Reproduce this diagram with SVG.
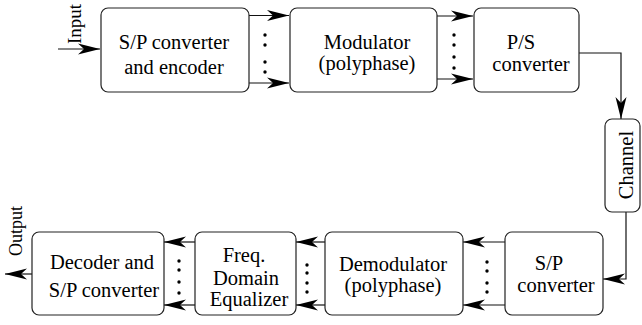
<svg xmlns="http://www.w3.org/2000/svg" width="642" height="325" viewBox="0 0 642 325">
<style>
.box{fill:#fff;stroke:#222;stroke-width:1.2}
.c{fill:none;stroke:#111;stroke-width:1.2}
.d{fill:#000}
</style>
<defs>
<marker id="ah" viewBox="0 0 22 12" refX="22" refY="6" markerWidth="22" markerHeight="12" markerUnits="userSpaceOnUse" orient="auto">
<path d="M0,0.5 L22,6 L0,11.5 L6,6 z" fill="#000"/>
</marker>
</defs>
<rect width="642" height="325" fill="#fff"/>
<g id="connectors">
<path class="c" d="M58,49 H100" marker-end="url(#ah)"/>
<path class="c" d="M249,15.5 H289" marker-end="url(#ah)"/>
<path class="c" d="M249,83 H289" marker-end="url(#ah)"/>
<path class="c" d="M437,16 H473" marker-end="url(#ah)"/>
<path class="c" d="M437,79 H473" marker-end="url(#ah)"/>
<path class="c" d="M579,53 H621 V119" marker-end="url(#ah)"/>
<path class="c" d="M626,212 V279 H603" marker-end="url(#ah)"/>
<path class="c" d="M505,242 H463" marker-end="url(#ah)"/>
<path class="c" d="M505,305 H463" marker-end="url(#ah)"/>
<path class="c" d="M325,242 H296" marker-end="url(#ah)"/>
<path class="c" d="M325,305 H296" marker-end="url(#ah)"/>
<path class="c" d="M195,242 H164" marker-end="url(#ah)"/>
<path class="c" d="M195,305 H164" marker-end="url(#ah)"/>
<path class="c" d="M32,274 H5" marker-end="url(#ah)"/>
<g class="d">
<circle cx="265" cy="35" r="1.7"/><circle cx="265" cy="45" r="1.7"/><circle cx="265" cy="62" r="1.7"/><circle cx="265" cy="72" r="1.7"/>
<circle cx="454" cy="35" r="1.7"/><circle cx="454" cy="45" r="1.7"/><circle cx="454" cy="57" r="1.7"/><circle cx="454" cy="68" r="1.7"/>
<circle cx="487" cy="262" r="1.7"/><circle cx="487" cy="271" r="1.7"/><circle cx="487" cy="283" r="1.7"/><circle cx="487" cy="292" r="1.7"/>
<circle cx="307" cy="265" r="1.7"/><circle cx="307" cy="273" r="1.7"/><circle cx="307" cy="283" r="1.7"/><circle cx="307" cy="292" r="1.7"/>
<circle cx="179" cy="261" r="1.7"/><circle cx="179" cy="270" r="1.7"/><circle cx="179" cy="282" r="1.7"/><circle cx="179" cy="293" r="1.7"/>
</g>
</g>
<g font-family="Liberation Serif, serif" font-size="20.5" text-anchor="middle" fill="#000">
<g id="input-label">
<text text-anchor="start" font-size="19" transform="translate(81,44) rotate(-90)">Input</text>
</g>
<g id="output-label">
<text text-anchor="start" font-size="18" transform="translate(22,256) rotate(-90)">Output</text>
</g>
<g id="sp-encoder">
<rect class="box" x="101" y="8" width="148" height="84" rx="7"/>
<text x="174" y="49">S/P converter</text>
<text x="174" y="74">and encoder</text>
</g>
<g id="modulator">
<rect class="box" x="290" y="8" width="147" height="84" rx="7"/>
<text x="367" y="49">Modulator</text>
<text x="367" y="70">(polyphase)</text>
</g>
<g id="ps-converter">
<rect class="box" x="474" y="8" width="105" height="84" rx="7"/>
<text x="521" y="49">P/S</text>
<text x="531" y="71">converter</text>
</g>
<g id="channel">
<rect class="box" x="605" y="119" width="35" height="93" rx="7"/>
<text transform="translate(633,165) rotate(-90)">Channel</text>
</g>
<g id="sp-converter">
<rect class="box" x="505" y="232" width="98" height="83" rx="7"/>
<text x="549" y="270">S/P</text>
<text x="556" y="292">converter</text>
</g>
<g id="demodulator">
<rect class="box" x="325" y="232" width="138" height="83" rx="7"/>
<text x="393" y="271">Demodulator</text>
<text x="393" y="292">(polyphase)</text>
</g>
<g id="equalizer">
<rect class="box" x="195" y="232" width="101" height="83" rx="7"/>
<text x="244" y="262">Freq.</text>
<text x="246" y="285">Domain</text>
<text x="249" y="306">Equalizer</text>
</g>
<g id="decoder">
<rect class="box" x="32" y="232" width="132" height="83" rx="7"/>
<text x="102" y="269">Decoder and</text>
<text x="104" y="297">S/P converter</text>
</g>
</g>
</svg>
